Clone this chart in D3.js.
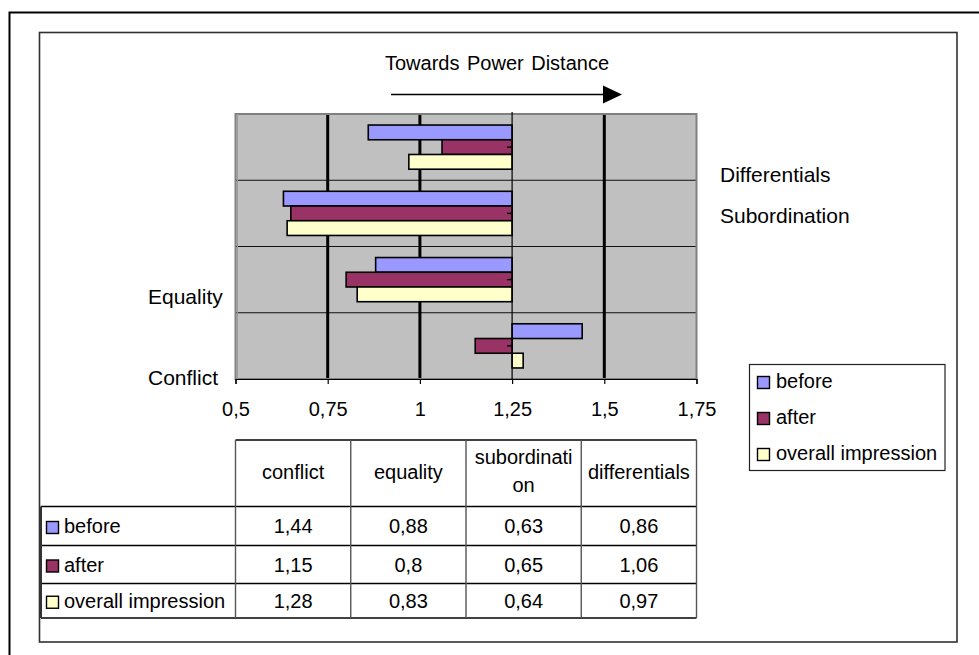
<!DOCTYPE html>
<html>
<head>
<meta charset="utf-8">
<script src="https://cdn.jsdelivr.net/npm/d3@7"></script>
<style>
  body { margin: 0; background: #fff; }
  svg text { font-family: "Liberation Sans", Arial, sans-serif; fill: #000; }
</style>
</head>
<body>
<svg id="chart" width="979" height="655"></svg>
<script>
// Categories, bottom to top on the chart; table columns use the same order.
const categories = ["Conflict", "Equality", "Subordination", "Differentials"];
const columnHeads = [["conflict"], ["equality"], ["subordinati", "on"], ["differentials"]];
const seriesNames = ["before", "after", "overall impression"];
const before  = [1.44, 0.88, 0.63, 0.86];
const after   = [1.15, 0.80, 0.65, 1.06];
const overall = [1.28, 0.83, 0.64, 0.97];
const seriesColors = ["#9999FF", "#993366", "#FFFFCC"];
const xTicks = [0.5, 0.75, 1, 1.25, 1.5, 1.75];
const baseline = 1.25;          // bars grow out from this value
const gridValues = [0.75, 1, 1.5];

const seriesValues = [before, after, overall];
const fmt = v => String(v).replace(".", ",");

const svg = d3.select("#chart");
const FS = 20;
const FS_CAT = 21;

// frames
svg.append("rect").attr("x", 9.5).attr("y", 12.5).attr("width", 1000).attr("height", 700)
  .attr("fill", "none").attr("stroke", "#000").attr("stroke-width", 2);
svg.append("rect").attr("x", 39.5).attr("y", 32.5).attr("width", 917.5).attr("height", 609.5)
  .attr("fill", "#fff").attr("stroke", "#303030").attr("stroke-width", 1.6);

// plot area
const plot = { left: 235.5, right: 696.5, top: 114, bottom: 379 };
const x = d3.scaleLinear().domain([0.5, 1.75]).range([plot.left, plot.right]);
const y = d3.scaleBand().domain(categories.slice().reverse()).range([plot.top, plot.bottom]).padding(0);
const step = y.bandwidth();
const ys = d3.scaleBand().domain(seriesNames).range([step * 0.75 / 4.5, step - step * 0.75 / 4.5]).padding(0);

svg.append("rect").attr("x", plot.left).attr("y", plot.top)
  .attr("width", plot.right - plot.left).attr("height", plot.bottom - plot.top)
  .attr("fill", "#C0C0C0");

// category separators
svg.append("g").selectAll("line").data(categories.slice(0, 3)).join("line")
  .attr("x1", plot.left).attr("x2", plot.right)
  .attr("y1", d => y(d)).attr("y2", d => y(d))
  .attr("stroke", "#111").attr("stroke-width", 1.2);

// major value gridlines
svg.append("g").selectAll("line").data(gridValues).join("line")
  .attr("x1", d => x(d)).attr("x2", d => x(d))
  .attr("y1", plot.top).attr("y2", plot.bottom)
  .attr("stroke", "#000").attr("stroke-width", 3);

// plot border
svg.append("rect").attr("x", plot.left).attr("y", plot.top)
  .attr("width", plot.right - plot.left).attr("height", plot.bottom - plot.top)
  .attr("fill", "none").attr("stroke", "#808080").attr("stroke-width", 2);
svg.append("line").attr("x1", plot.left + 2).attr("x2", plot.left + 2)
  .attr("y1", plot.top).attr("y2", plot.bottom).attr("stroke", "#9a9a9a").attr("stroke-width", 1);

// bars
const barData = [];
categories.forEach((c, ci) => {
  seriesNames.forEach((s, si) => barData.push({ cat: c, s, si, v: seriesValues[si][ci] }));
});
svg.append("g").selectAll("rect").data(barData).join("rect")
  .attr("x", d => x(Math.min(d.v, baseline)))
  .attr("width", d => Math.abs(x(d.v) - x(baseline)))
  .attr("y", d => y(d.cat) + ys(d.s))
  .attr("height", ys.bandwidth())
  .attr("fill", d => seriesColors[d.si])
  .attr("stroke", "#000").attr("stroke-width", 1.6);

// category axis crossing at the baseline value
svg.append("line").attr("x1", x(baseline)).attr("x2", x(baseline))
  .attr("y1", plot.top - 2).attr("y2", plot.bottom)
  .attr("stroke", "#000").attr("stroke-width", 1.2);
svg.append("g").selectAll("line").data(categories).join("line")
  .attr("x1", x(baseline) - 5).attr("x2", x(baseline))
  .attr("y1", d => y(d) + step / 2).attr("y2", d => y(d) + step / 2)
  .attr("stroke", "#000").attr("stroke-width", 1.4);

// value axis
const xAxis = d3.axisBottom(x).tickValues(xTicks).tickFormat(fmt).tickSize(5).tickPadding(18);
const gx = svg.append("g").attr("transform", `translate(0,${plot.bottom})`).call(xAxis);
gx.select(".domain").attr("stroke", "#000").attr("stroke-width", 1.2);
gx.selectAll(".tick line").attr("stroke", "#000").attr("stroke-width", 1.2);
gx.selectAll(".tick text").attr("font-size", FS).attr("fill", "#000")
  .attr("font-family", "Liberation Sans, Arial, sans-serif");

// category labels
const catLabel = [
  { t: "Conflict", x: 148, y: plot.bottom + 6 },
  { t: "Equality", x: 148, y: 304 },
  { t: "Subordination", x: 720, y: 223 },
  { t: "Differentials", x: 720, y: 181.5 }
];
svg.append("g").selectAll("text").data(catLabel).join("text")
  .attr("x", d => d.x).attr("y", d => d.y).attr("font-size", FS_CAT).text(d => d.t);

// title with direction arrow
svg.append("text").attr("x", 497).attr("y", 70).attr("text-anchor", "middle")
  .attr("font-size", FS).attr("word-spacing", 2).text("Towards Power Distance");
svg.append("line").attr("x1", 391).attr("x2", 605).attr("y1", 94.5).attr("y2", 94.5)
  .attr("stroke", "#000").attr("stroke-width", 1.6);
svg.append("path").attr("d", "M603,85.5 L622,94.5 L603,103.5 Z").attr("fill", "#000");

// legend
const lg = svg.append("g");
lg.append("rect").attr("x", 749.5).attr("y", 364.5).attr("width", 195.5).attr("height", 106)
  .attr("fill", "#fff").attr("stroke", "#222").attr("stroke-width", 1.2);
const lgItems = lg.selectAll("g").data(seriesNames).join("g")
  .attr("transform", (d, i) => `translate(757,${388 + i * 36})`);
lgItems.append("rect").attr("x", 0.5).attr("y", -11.5).attr("width", 12).attr("height", 12)
  .attr("fill", (d, i) => seriesColors[i]).attr("stroke", "#000").attr("stroke-width", 1.4);
lgItems.append("text").attr("x", 19).attr("y", 0).attr("font-size", FS).text(d => d);

// data table
const colEdges = d3.range(5).map(i => plot.left + i * (plot.right - plot.left) / 4);
const rowEdges = [440, 506.5, 545.5, 583.5, 618];
const tableLeft = 41;
const tg = svg.append("g");
tg.append("line").attr("x1", colEdges[0]).attr("x2", colEdges[4]).attr("y1", rowEdges[0]).attr("y2", rowEdges[0])
  .attr("stroke", "#000").attr("stroke-width", 1.4);
tg.selectAll("line.h").data(rowEdges.slice(1)).join("line").attr("class", "h")
  .attr("x1", tableLeft).attr("x2", colEdges[4]).attr("y1", d => d).attr("y2", d => d)
  .attr("stroke", "#000").attr("stroke-width", 1.4);
tg.selectAll("line.v").data(colEdges).join("line").attr("class", "v")
  .attr("x1", d => d).attr("x2", d => d).attr("y1", rowEdges[0]).attr("y2", rowEdges[4])
  .attr("stroke", "#555").attr("stroke-width", 1.4);
tg.append("line").attr("x1", tableLeft).attr("x2", tableLeft).attr("y1", rowEdges[1]).attr("y2", rowEdges[4])
  .attr("stroke", "#333").attr("stroke-width", 2);

// header cells
columnHeads.forEach((lines, ci) => {
  const cx = (colEdges[ci] + colEdges[ci + 1]) / 2;
  const t = tg.append("text").attr("x", cx).attr("text-anchor", "middle").attr("font-size", FS);
  if (lines.length === 1) {
    t.attr("y", 479).text(lines[0]);
  } else {
    t.attr("y", 464).text(lines[0]);
    tg.append("text").attr("x", cx).attr("y", 492).attr("text-anchor", "middle")
      .attr("font-size", FS).text(lines[1]);
  }
});

// value rows
seriesNames.forEach((s, si) => {
  const base = (rowEdges[si + 1] + rowEdges[si + 2]) / 2 + 7;
  tg.append("rect").attr("x", 46.5).attr("y", base - 11.5).attr("width", 12).attr("height", 12)
    .attr("fill", seriesColors[si]).attr("stroke", "#000").attr("stroke-width", 1.4);
  tg.append("text").attr("x", 64).attr("y", base).attr("font-size", FS).text(s);
  seriesValues[si].forEach((v, ci) => {
    tg.append("text").attr("x", (colEdges[ci] + colEdges[ci + 1]) / 2).attr("y", base)
      .attr("text-anchor", "middle").attr("font-size", FS).text(fmt(v));
  });
});
</script>
</body>
</html>
